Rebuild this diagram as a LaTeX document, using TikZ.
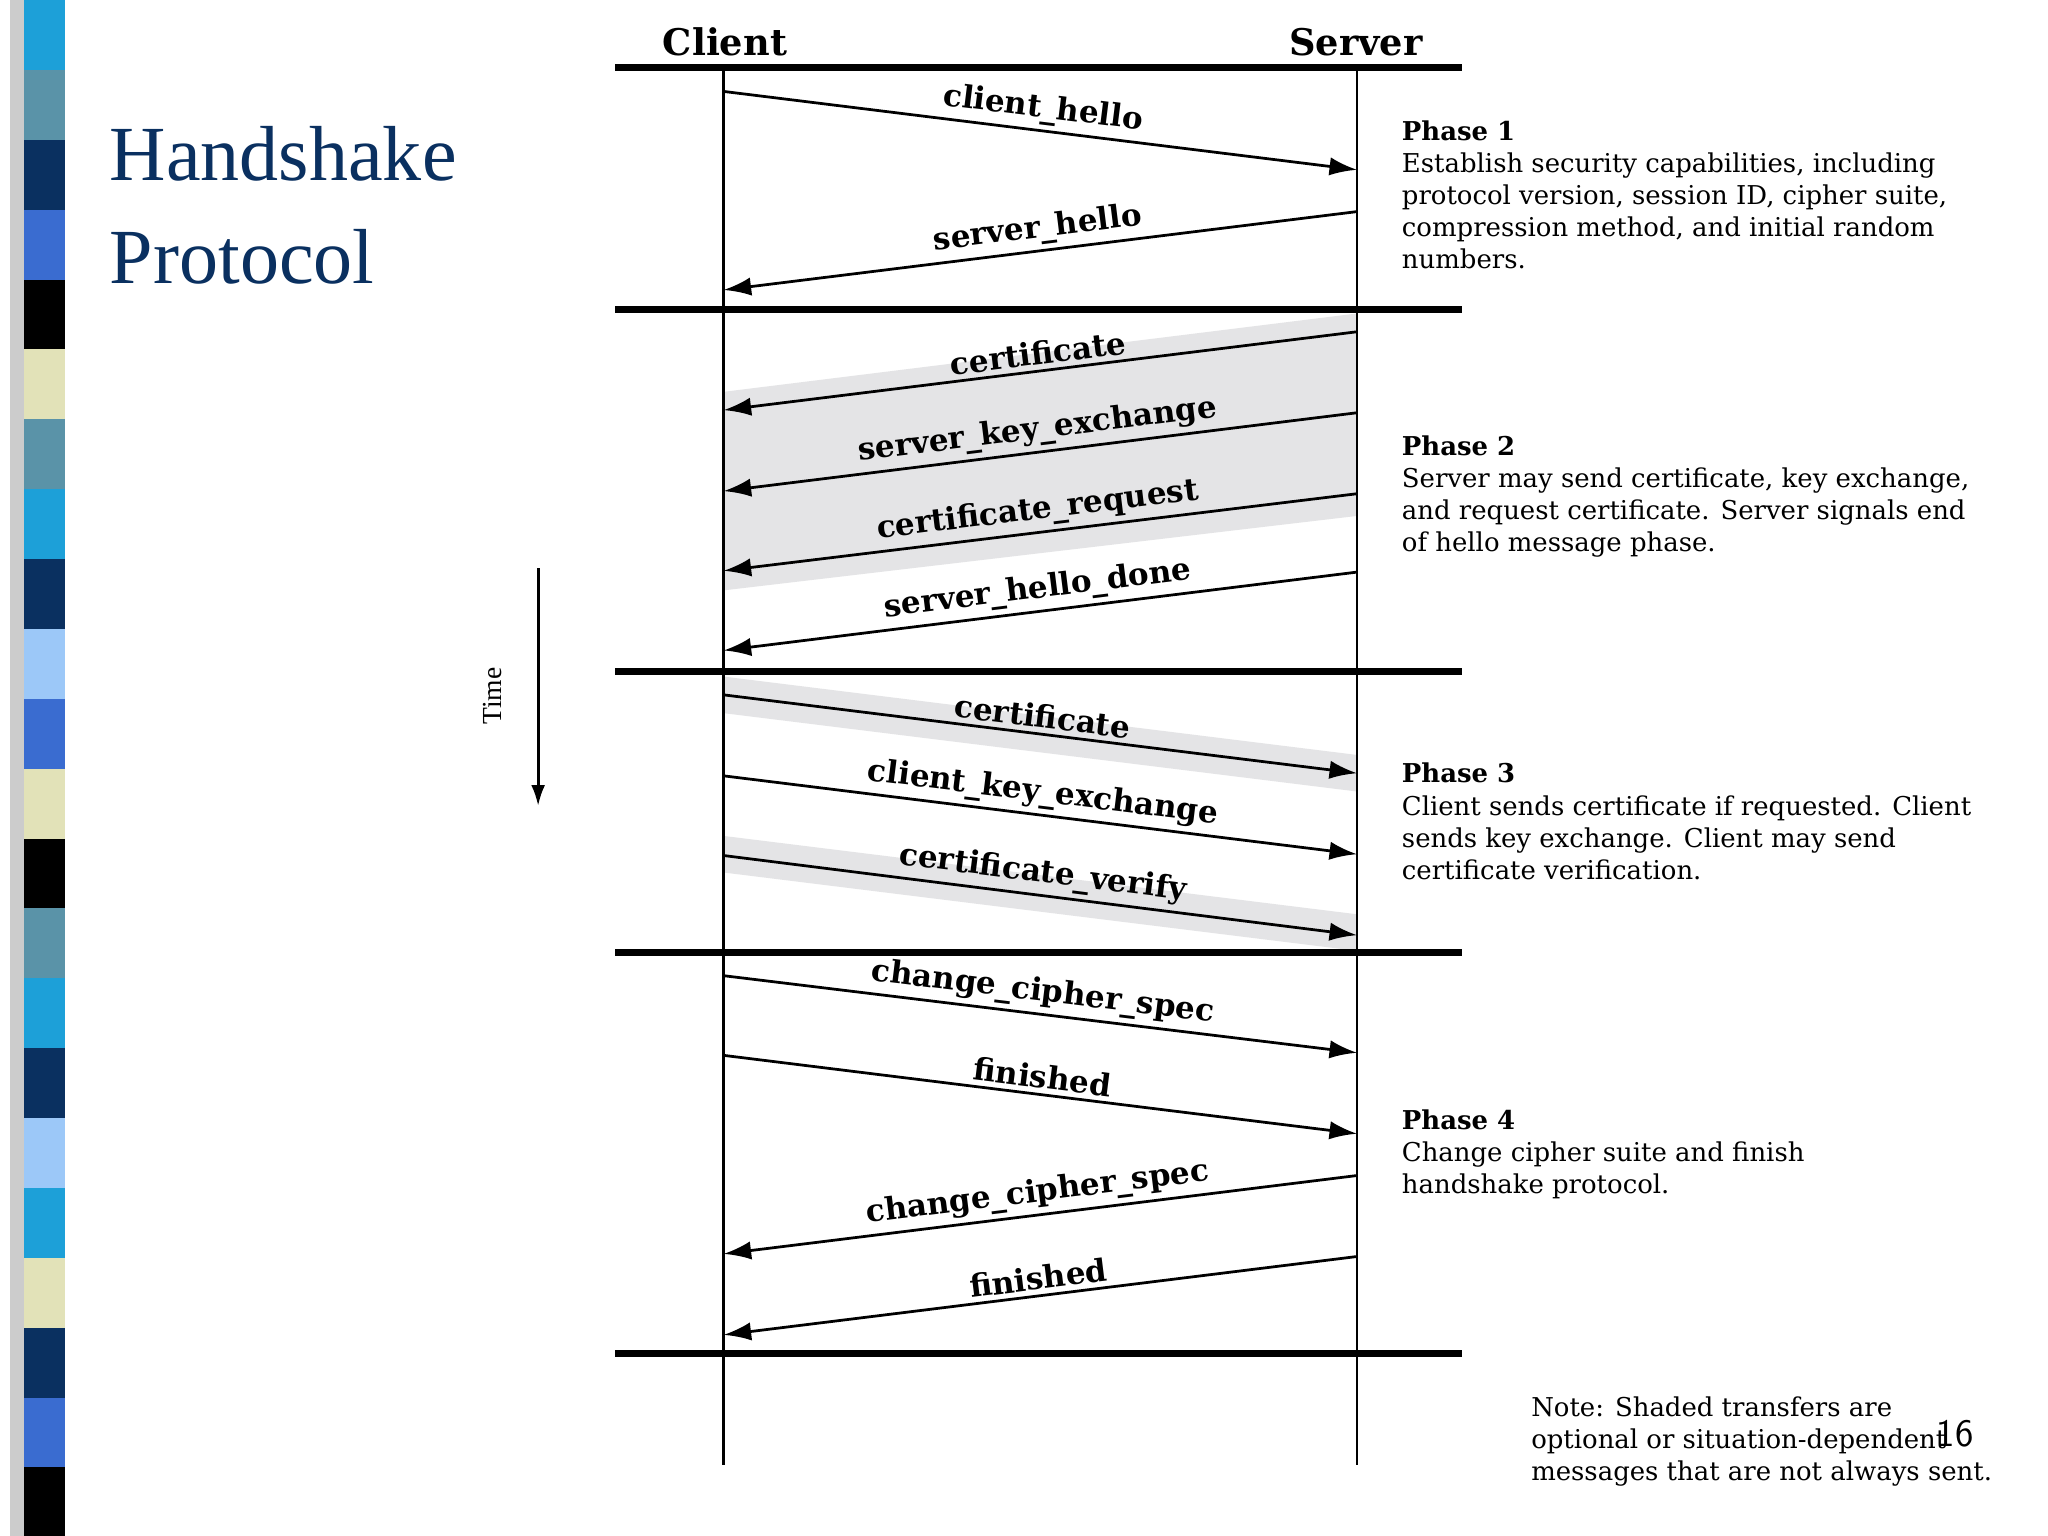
\documentclass[tikz,border=0pt]{standalone}
\usepackage{fontspec}
\setmainfont{Liberation Serif}
\newfontfamily\dvfont{DejaVu Serif}
\usetikzlibrary{arrows.meta}
\definecolor{navy}{HTML}{0A3060}
\definecolor{tealc}{HTML}{5A93A8}
\definecolor{cyanc}{HTML}{1DA0D8}
\definecolor{bluec}{HTML}{3A6CD0}
\definecolor{lbluec}{HTML}{9CC8F8}
\definecolor{beigec}{HTML}{E2E2B8}
\definecolor{bandc}{HTML}{E4E4E6}
\tikzset{
 msg/.style={line width=1.2pt,-{Latex[length=12pt,width=8pt]}},
 lbl/.style={midway,sloped,above,font=\dvfont\fontsize{13.5}{13.5}\bfseries,inner sep=2pt},
 bar/.style={line width=3pt},
 life/.style={line width=1.2pt},
 ptxt/.style={anchor=north west,align=left,font=\dvfont\fontsize{11.3}{14}\selectfont,inner sep=0pt},
}
\begin{document}
\begin{tikzpicture}[x=0.02cm,y=-0.02cm]
\useasboundingbox (0,0) rectangle (1568,1176);
\fill[white] (0,0) rectangle (1568,1176);
% left stripe
\fill[gray!40] (8,0) rectangle (20,1176);
\foreach \c [count=\i from 0] in {cyanc,tealc,navy,bluec,black,beigec,tealc,cyanc,navy,lbluec,bluec,beigec,black,tealc,cyanc,navy,lbluec,cyanc,beigec,navy,bluec,black}
  \fill[\c] (18,{\i*53.5}) rectangle (50,{(\i+1)*53.5});
% title
\node[anchor=west,text=navy,font=\fontsize{34}{34}\selectfont] (t1) at (78,118) {Handshake};
\node[anchor=west,text=navy,font=\fontsize{34}{34}\selectfont] (t2) at (78,197) {Protocol};
% shaded regions
\fill[bandc] (554,300) -- (1039,240) -- (1039,395) -- (554,452) -- cycle;
\fill[bandc] (554,518) -- (1039,578) -- (1039,606) -- (554,546) -- cycle;
\fill[bandc] (554,640) -- (1039,700) -- (1039,728) -- (554,668) -- cycle;
% headers
\node[font=\dvfont\fontsize{16}{16}\bfseries] (cl) at (555,32) {Client};
\node[font=\dvfont\fontsize{16}{16}\bfseries] (sv) at (1038,32) {Server};
\foreach \y [count=\i] in {52,237,514,729,1036}
  \draw[bar] (471,\y) -- (1119,\y);
\coordinate (ct) at (554,52); \coordinate (cb) at (554,1122);
\coordinate (st) at (1039,52); \coordinate (sb) at (1039,1122);
\draw[life] (ct) -- (cb); \draw[life] (st) -- (sb);
% messages
\coordinate (a1) at (554,70);  \coordinate (b1) at (1039,130);
\coordinate (a2) at (1039,162); \coordinate (b2) at (554,222);
\coordinate (a3) at (1039,254); \coordinate (b3) at (554,314);
\coordinate (a4) at (1039,316); \coordinate (b4) at (554,376);
\coordinate (a5) at (1039,378); \coordinate (b5) at (554,437);
\coordinate (a6) at (1039,438); \coordinate (b6) at (554,498);
\coordinate (a7) at (554,532); \coordinate (b7) at (1039,592);
\coordinate (a8) at (554,594); \coordinate (b8) at (1039,654);
\coordinate (a9) at (554,655); \coordinate (b9) at (1039,716);
\coordinate (a10) at (554,747); \coordinate (b10) at (1039,806);
\coordinate (a11) at (554,808); \coordinate (b11) at (1039,868);
\coordinate (a12) at (1039,900); \coordinate (b12) at (554,960);
\coordinate (a13) at (1039,962); \coordinate (b13) at (554,1022);
\draw[msg] (a1) -- node[lbl] {client\_hello} (b1);
\draw[msg] (a2) -- node[lbl] {server\_hello} (b2);
\draw[msg] (a3) -- node[lbl] {certificate} (b3);
\draw[msg] (a4) -- node[lbl] {server\_key\_exchange} (b4);
\draw[msg] (a5) -- node[lbl] {certificate\_request} (b5);
\draw[msg] (a6) -- node[lbl] {server\_hello\_done} (b6);
\draw[msg] (a7) -- node[lbl] {certificate} (b7);
\draw[msg] (a8) -- node[lbl] {client\_key\_exchange} (b8);
\draw[msg] (a9) -- node[lbl] {certificate\_verify} (b9);
\draw[msg] (a10) -- node[lbl] {change\_cipher\_spec} (b10);
\draw[msg] (a11) -- node[lbl] {finished} (b11);
\draw[msg] (a12) -- node[lbl] {change\_cipher\_spec} (b12);
\draw[msg] (a13) -- node[lbl] {finished} (b13);
% time
\coordinate (tt) at (412,435); \coordinate (tb) at (412,617);
\draw[line width=1.2pt,-{Latex[length=9pt,width=6pt]}] (tt) -- (tb);
\node[rotate=90,font=\fontsize{12}{12}\selectfont] (time) at (377,533) {Time};
% phase texts
\node[ptxt] (p1) at (1073,92) {\textbf{Phase 1}\\Establish security capabilities, including\\protocol version, session ID, cipher suite,\\compression method, and initial random\\numbers.};
\node[ptxt] (p2) at (1073,333) {\textbf{Phase 2}\\Server may send certificate, key exchange,\\and request certificate. Server signals end\\of hello message phase.};
\node[ptxt] (p3) at (1073,584) {\textbf{Phase 3}\\Client sends certificate if requested. Client\\sends key exchange. Client may send\\certificate verification.};
\node[ptxt] (p4) at (1073,849) {\textbf{Phase 4}\\Change cipher suite and finish\\handshake protocol.};
\node[ptxt] (note) at (1172,1069) {Note: Shaded transfers are\\optional or situation-dependent\\messages that are not always sent.};
\node[font=\fontsize{17}{17}\sffamily] (pg) at (1497,1098) {16};
\end{tikzpicture}
\end{document}
